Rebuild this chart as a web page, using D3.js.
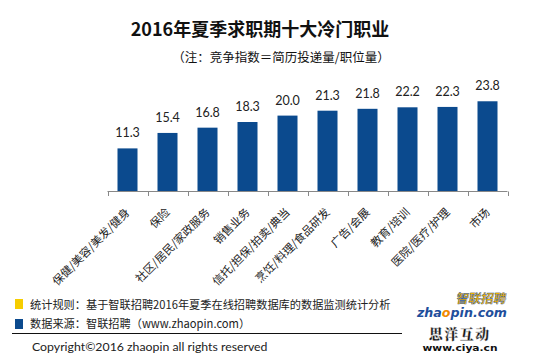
<!DOCTYPE html>
<html><head><meta charset="utf-8">
<script src="https://cdn.jsdelivr.net/npm/d3@7"></script>
<style>
body{margin:0;background:#fff;}
svg{display:block;}
</style></head>
<body>
<svg id="chart" width="558" height="361"></svg>
<script>
const categories = ["保健/美容/美发/健身","保险","社区/居民/家政服务","销售业务","信托/担保/拍卖/典当","烹饪/料理/食品研发","广告/会展","教育/培训","医院/医疗/护理","市场"];
const values = [11.3,15.4,16.8,18.3,20.0,21.3,21.8,22.2,22.3,23.8];
const titleText = "2016年夏季求职期十大冷门职业";
const subtitleText = "（注：竞争指数＝简历投递量/职位量）";
const noteLines = ["统计规则：基于智联招聘2016年夏季在线招聘数据库的数据监测统计分析","数据来源：智联招聘（www.zhaopin.com）"];
const copyrightText = "Copyright©2016 zhaopin all rights reserved";

const svg = d3.select("#chart");
const CJK = "'Noto Sans CJK SC','Noto Sans',sans-serif";
const LAT = "Lato,'Open Sans','Noto Sans',sans-serif";
const barColor = "#0b4a8e";

const x = d3.scaleBand().domain(categories).range([107.5, 507.5]).paddingInner(0.5).paddingOuter(0.25);
const y = d3.scaleLinear().domain([0, 25]).range([191, 191 - 25 * 3.77]);

// title
svg.append("text").attr("x", 260).attr("y", 36).attr("text-anchor", "middle")
  .attr("font-family", CJK).attr("font-weight", "bold").attr("font-size", 18).attr("fill", "#111").text(titleText);
svg.append("text").attr("x", 281).attr("y", 62).attr("text-anchor", "middle")
  .attr("font-family", CJK).attr("font-size", 12.5).attr("fill", "#111").text(subtitleText);

// bars
svg.append("g").selectAll("rect").data(values).join("rect")
  .attr("x", (d, i) => x(categories[i]))
  .attr("width", x.bandwidth())
  .attr("y", d => y(d))
  .attr("height", d => y(0) - y(d))
  .attr("fill", barColor);

svg.append("g").selectAll("text").data(values).join("text")
  .attr("x", (d, i) => x(categories[i]) + x.bandwidth() / 2)
  .attr("y", d => y(d) - 11)
  .attr("text-anchor", "middle")
  .attr("font-family", LAT).attr("font-size", 12.5).attr("fill", "#222")
  .text(d => d.toFixed(1));

// axis
const xAxisScale = d3.scaleBand().domain(categories).range([107.5, 507.5]);
const axisG = svg.append("g").attr("transform", "translate(0,191)");
axisG.append("line").attr("x1", 107.5).attr("x2", 507.5).attr("y1", 0.5).attr("y2", 0.5).attr("stroke", "#888");
const edges = categories.map(c => xAxisScale(c)).concat([507.5]);
axisG.selectAll("line.tick").data(edges).join("line").attr("class", "tick")
  .attr("x1", d => Math.round(d) + 0.5).attr("x2", d => Math.round(d) + 0.5)
  .attr("y1", 0.5).attr("y2", 5).attr("stroke", "#888");

svg.append("g").selectAll("text").data(categories).join("text")
  .attr("transform", c => `translate(${xAxisScale(c) + xAxisScale.bandwidth() / 2 + 3},213) rotate(-45)`)
  .attr("text-anchor", "end")
  .attr("font-family", CJK).attr("font-size", 11.3).attr("fill", "#222")
  .text(c => c);

// notes
svg.append("rect").attr("x", 15).attr("y", 299).attr("width", 8).attr("height", 10).attr("fill", "#f6cd00");
svg.append("rect").attr("x", 15).attr("y", 319).attr("width", 8).attr("height", 10).attr("fill", barColor);
svg.selectAll("text.note").data(noteLines).join("text").attr("class", "note")
  .attr("x", 30).attr("y", (d, i) => 309 + i * 19)
  .attr("font-family", CJK).attr("font-size", 11.2).attr("fill", "#222")
  .text(d => d);
svg.append("line").attr("x1", 12).attr("x2", 402).attr("y1", 333.5).attr("y2", 333.5).attr("stroke", "#111").attr("stroke-width", 1);
svg.append("text").attr("x", 32).attr("y", 351).attr("font-family", LAT).attr("font-size", 12.3).attr("fill", "#222").text(copyrightText);

// logos
const logo = svg.append("g");
logo.append("text").attr("x", 506).attr("y", 303).attr("text-anchor", "end")
  .attr("font-family", CJK).attr("font-weight", "bold").attr("font-size", 12.5)
  .attr("fill", "#f0b000").attr("stroke", "#2456a6").attr("stroke-width", 0.4)
  .attr("transform", "translate(53,0) skewX(-10)").text("智联招聘");
const z = logo.append("text").attr("x", 417).attr("y", 317)
  .attr("font-family", "'DejaVu Sans',sans-serif").attr("font-weight", "bold").attr("font-style", "italic").attr("font-size", 13)
  .attr("textLength", 90).attr("lengthAdjust", "spacingAndGlyphs").attr("fill", "#1f4f9c");
z.append("tspan").text("zha");
z.append("tspan").attr("fill", "#f08a00").text("o");
z.append("tspan").text("pin.com");
logo.append("text").attr("x", 460).attr("y", 339).attr("text-anchor", "middle")
  .attr("font-family", "'Noto Serif CJK SC','Noto Sans CJK SC',serif").attr("font-weight", "900").attr("font-size", 13.5)
  .attr("fill", "#111").attr("stroke", "#bbb").attr("stroke-width", 0.3).attr("letter-spacing", 2).text("思洋互动");
logo.append("text").attr("x", 460).attr("y", 351).attr("text-anchor", "middle")
  .attr("font-family", "'DejaVu Sans',sans-serif").attr("font-weight", "bold").attr("font-size", 9)
  .attr("textLength", 75).attr("lengthAdjust", "spacingAndGlyphs").attr("fill", "#111").text("www.ciya.cn");
</script>
</body></html>
